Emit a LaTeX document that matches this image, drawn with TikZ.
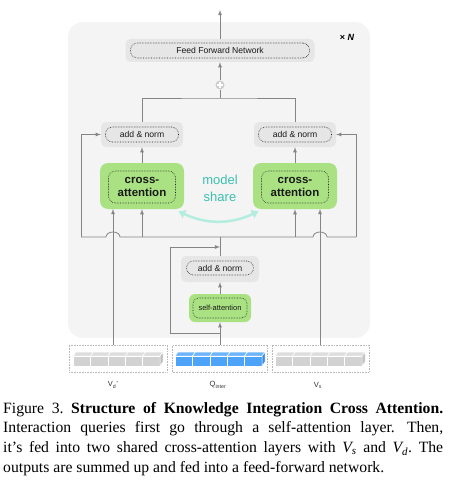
\documentclass[tikz,border=0pt]{standalone}
\usepackage{fontspec}
\setmainfont{Liberation Serif}
\setsansfont{Liberation Sans}
\usepackage{tikz}
\usetikzlibrary{calc,arrows,arrows.meta}
\definecolor{panelgray}{HTML}{F4F4F4}
\definecolor{normgray}{HTML}{E6E6E6}
\definecolor{attgreen}{HTML}{AAE283}
\definecolor{wiregray}{HTML}{858585}
\definecolor{sharetxt}{HTML}{3DBFAF}
\definecolor{sharearr}{HTML}{B2EDDF}
\definecolor{tokfront}{HTML}{D2D2D2}
\definecolor{toktop}{HTML}{DDDDDD}
\definecolor{tokside}{HTML}{C0C0C0}
\definecolor{bluefront}{HTML}{4DA3F8}
\definecolor{bluetop}{HTML}{6DB5FA}
\definecolor{blueside}{HTML}{3A8DE2}

\tikzset{
    wire/.style={draw=wiregray, line width=0.8pt},
    arr/.style={wire, -latex},
    normbg/.style={fill=normgray, rounded corners=5pt, inner sep=0pt,
        minimum width=82pt, minimum height=25pt},
    attbg/.style={fill=attgreen, rounded corners=8pt, inner sep=0pt,
        minimum width=84pt, minimum height=46pt},
    inbox/.style={draw=black!85, densely dotted, line width=0.6pt,
        rounded corners=7pt, inner sep=0pt, align=center, text=black!90},
    normtxt/.style={inbox, minimum width=73pt, minimum height=15pt,
        font=\sffamily\fontsize{8.6}{10}\selectfont},
    catxt/.style={inbox, minimum width=67pt, minimum height=32pt,
        font=\sffamily\bfseries\fontsize{11.5}{13.5}\selectfont},
    inputbox/.style={draw=black!28, densely dotted, line width=0.6pt,
        inner sep=0pt, minimum width=97pt, minimum height=27pt},
    lbl/.style={font=\sffamily\fontsize{7.5}{9}\selectfont, text=black!80}
}

\begin{document}
\begin{tikzpicture}[x=1pt,y=-1pt]
    \useasboundingbox (0,0) rectangle (459,484);
    \fill[panelgray, rounded corners=15pt] (68,22) rectangle (370,338);
    \node[font=\sffamily\bfseries\fontsize{9}{10}\selectfont] (reps) at (347,37) {× \itshape N};

    \node[normbg, minimum width=189pt, minimum height=23pt] (ffnbg) at (220,50.5) {};
    \node[normtxt, minimum width=179pt] (ffn) at (ffnbg) {Feed Forward Network};
    \node[circle, fill=black!20, inner sep=0pt, minimum size=9pt] (sum) at (220,85) {};
    \draw[white, line width=1.1pt] ($(sum.center)+(-2.6,0)$) -- ($(sum.center)+(2.6,0)$)
        ($(sum.center)+(0,-2.6)$) -- ($(sum.center)+(0,2.6)$);

    \foreach \n/\x in {L/142, R/295} {
        \node[normbg] (norm\n bg) at (\x,134.5) {};
        \node[normtxt] (norm\n) at (\x,134.5) {add \& norm};
        \node[attbg] (ca\n bg) at (\x,186) {};
        \node[catxt] (ca\n) at (\x,187) {cross-\\attention};
        \draw[arr] (ca\n bg) -- (norm\n bg);
    }
    \node[font=\sffamily\fontsize{13}{17}\selectfont, text=sharetxt, align=center]
        (share) at (220,188) {model\\share};
    \draw[sharearr, line width=2.5pt, {Latex[length=7pt,width=10pt]}-{Latex[length=7pt,width=10pt]}]
        ($(caLbg.south east)+(-6,2)$) to[bend right=25] ($(caRbg.south west)+(6,2)$);

    \node[normbg, minimum width=78pt, minimum height=26pt] (normSbg) at (220,269) {};
    \node[normtxt, minimum width=67pt, minimum height=14pt] (normS) at (220,268) {add \& norm};
    \node[attbg, minimum width=62pt, minimum height=28pt, rounded corners=6pt] (sabg) at (220,308) {};
    \node[normtxt, minimum width=54pt, minimum height=20pt, rounded corners=6pt,
        font=\sffamily\fontsize{7.5}{9}\selectfont] (sa) at (220,308) {self-attention};

    \node[inputbox, minimum width=98pt] (vdin) at (118,358.5) {};
    \node[inputbox, minimum width=95pt] (qin) at (220,358.5) {};
    \node[inputbox] (vsin) at (320.5,358.5) {};
    \foreach \gx/\tf/\tt/\ts in {73/tokfront/toktop/tokside, 175/bluefront/bluetop/blueside,
        275/tokfront/toktop/tokside} {
        \foreach \i in {0,...,4} {
            \filldraw[fill=\tt, draw=white, line width=0.5pt] ({\gx+17.4*\i},356) -- ++(3,-4)
                -- ++(17.4,0) -- ++(-3,4) -- cycle;
            \filldraw[fill=\tf, draw=white, line width=0.5pt] ({\gx+17.4*\i},356) rectangle ++(17.4,10);
        }
        \filldraw[fill=\ts, draw=white, line width=0.5pt] ({\gx+87},356) -- ++(3,-4) -- ++(0,10)
            -- ++(-3,4) -- cycle;
    }
    \node[lbl] (vdlbl) at (113,385) {V\textsubscript{d}'};
    \node[lbl] (qlbl) at (218,385) {Q\textsubscript{inter}};
    \node[lbl] (vslbl) at (318,385) {V\textsubscript{s}};

    \coordinate (busL) at (81,237);
    \coordinate (busC) at (220,237);
    \coordinate (busR) at (356,237);
    \coordinate (vdtap) at (113,209);
    \coordinate (vstap) at (320,209);
    \coordinate (skipA) at (220,333);
    \coordinate (skipB) at (220,247);
    \coordinate (topbus) at (220,98);
    \coordinate (out) at (220,10);

    \draw[wire] (busL) -- ([xshift=-7pt]vdtap |- busC)
        arc[start angle=180, end angle=360, x radius=7, y radius=5]
        -- ([xshift=-7pt]vstap |- busC)
        arc[start angle=180, end angle=360, x radius=7, y radius=5] -- (busR);
    \draw[arr] (busL) |- (normLbg.west);
    \draw[arr] (busR) |- (normRbg.east);
    \draw[arr] (caLbg.south |- busC) -- (caLbg.south);
    \draw[arr] (caRbg.south |- busC) -- (caRbg.south);
    \draw[arr] (vdin.north -| vdtap) -- (vdtap);
    \draw[arr] (vsin.north -| vstap) -- (vstap);
    \draw[wire] (normSbg.north) -- (busC);
    \draw[arr] (qin.north) -- (sabg.south);
    \draw[arr] (sabg) -- (normSbg);
    \draw[arr] (skipA) -- ++(-50,0) |- (skipB);
    \draw[wire] (normLbg.north) |- (topbus) -| (normRbg.north);
    \draw[wire] (topbus) -- (sum);
    \draw[arr] (sum) -- (ffnbg);
    \draw[arr] (ffnbg) -- (out);

    \node[anchor=north west, inner sep=0pt, text width=440pt, align=justify,
        font=\fontsize{15.7}{19.7}\selectfont\frenchspacing] (caption) at (3,402)
        {Figure 3. \textbf{Structure of Knowledge Integration Cross Attention.}\linebreak
        Interaction queries first go through a self-attention layer.\hspace{3pt} Then,\linebreak
        it’s fed into two shared cross-attention layers with \textit{V\textsubscript{s}}
        and \textit{V\textsubscript{d}}. The\linebreak
        outputs are summed up and fed into a feed-forward network.};
\end{tikzpicture}
\end{document}
